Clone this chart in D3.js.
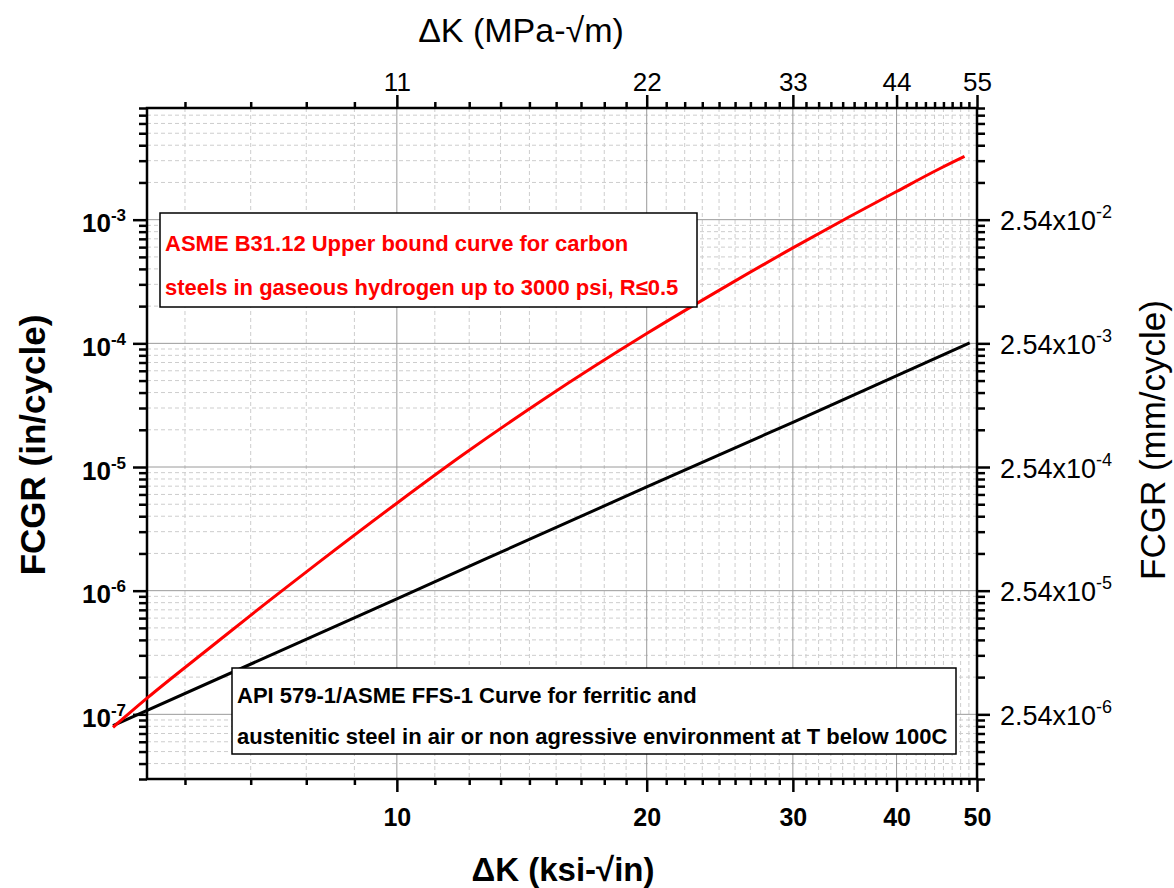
<!DOCTYPE html>
<html>
<head>
<meta charset="utf-8">
<script src="https://cdn.jsdelivr.net/npm/d3@7"></script>
<style>
  body { margin: 0; background: #fff; }
  svg { font-family: Arial, "Liberation Sans", sans-serif; }
  .grid-major { stroke: #9a9a9a; stroke-width: 1; }
  .grid-minor { stroke: #cdcdcd; stroke-width: 1; stroke-dasharray: 4,3; }
  .tick line { stroke: #000; stroke-width: 2.5; }
</style>
</head>
<body>
<svg width="1174" height="888"></svg>
<script>
// values
const redDk   = [4.55, 5, 6, 7, 8, 10, 12, 15, 20, 25, 30, 35, 40, 45, 48.3]
const redRate = [7.85e-8, 1.35e-7, 3.6e-7, 8.2e-7, 1.64e-6, 5.1e-6, 1.25e-5, 3.5e-5, 1.2e-4, 2.93e-4, 5.91e-4, 1.046e-3, 1.69e-3, 2.57e-3, 3.25e-3]
const blackDk   = [4.55, 10, 20, 30, 49]
const blackRate = [8.1e-8, 8.6e-7, 6.9e-6, 2.3e-5, 1.01e-4]

const xTicks = [10, 20, 30, 40, 50]
const xTopTicks = [11, 22, 33, 44, 55]
const yTicks = [1e-7, 1e-6, 1e-5, 1e-4, 1e-3]
const yRightTicks = [2.54e-6, 2.54e-5, 2.54e-4, 2.54e-3, 2.54e-2]

const redNote = ["ASME B31.12 Upper bound curve for carbon",
                 "steels in gaseous hydrogen up to 3000 psi, R\u22640.5"]
const blackNote = ["API 579-1/ASME FFS-1 Curve for ferritic and",
                   "austenitic steel in air or non agressive environment at T below 100C"]

var svg = d3.select('svg')
const L = 147, R = 977, T = 108, B = 779

const x = d3.scaleLog().domain([5, 50]).range([L, R])
const xTop = d3.scaleLog().domain([5.5, 55]).range([L, R])
const y = d3.scaleLog().domain([3e-8, 8e-3]).range([B, T])
const yRight = d3.scaleLog().domain([3e-8 * 25.4, 8e-3 * 25.4]).range([B, T])

// minor ticks: each 10-unit step split in 9
var xMinor = []
for (let a = 0; a < 50; a += 10) {
  for (let k = 1; k < 9; k++) {
    const v = a + k * 10 / 9
    if (v > 5) xMinor.push(v)
  }
}
const isDecade = v => Math.abs(Math.log10(v) - Math.round(Math.log10(v))) < 1e-6
const yMinor = y.ticks().filter(v => !isDecade(v))

// grid
const grid = svg.append('g')
grid.selectAll('.vmin').data(xMinor).enter().append('line')
  .attr('class', 'grid-minor')
  .attr('x1', d => x(d)).attr('x2', d => x(d)).attr('y1', T).attr('y2', B)
grid.selectAll('.hmin').data(yMinor).enter().append('line')
  .attr('class', 'grid-minor')
  .attr('x1', L).attr('x2', R).attr('y1', d => y(d)).attr('y2', d => y(d))
grid.selectAll('.vmaj').data(xTicks.slice(0, -1)).enter().append('line')
  .attr('class', 'grid-major')
  .attr('x1', d => x(d)).attr('x2', d => x(d)).attr('y1', T).attr('y2', B)
grid.selectAll('.hmaj').data(yTicks).enter().append('line')
  .attr('class', 'grid-major')
  .attr('x1', L).attr('x2', R).attr('y1', d => y(d)).attr('y2', d => y(d))

// axes
const addAxis = (axis, tx, ty) => {
  const g = svg.append('g').attr('transform', `translate(${tx},${ty})`).call(axis)
  g.select('.domain').remove()
  return g
}

addAxis(d3.axisBottom(x).tickValues(xMinor).tickSize(6).tickFormat(''), 0, B)
addAxis(d3.axisTop(x).tickValues(xMinor).tickSize(6).tickFormat(''), 0, T)
addAxis(d3.axisLeft(y).tickValues(yMinor).tickSize(8).tickFormat(''), L, 0)
addAxis(d3.axisRight(y).tickValues(yMinor).tickSize(8).tickFormat(''), R, 0)

const bottomAxis = addAxis(d3.axisBottom(x).tickValues(xTicks).tickSize(13).tickFormat(d3.format('d')), 0, B)
bottomAxis.selectAll('text').attr('font-size', 25).attr('font-weight', 'bold')
  .attr('fill', '#000').attr('dy', '1.25em')

const topAxis = addAxis(d3.axisTop(xTop).tickValues(xTopTicks).tickSize(13).tickFormat(d3.format('d')), 0, T)
topAxis.selectAll('text').attr('font-size', 26).attr('fill', '#000').attr('dy', '-0.05em')

const leftAxis = addAxis(d3.axisLeft(y).tickValues(yTicks).tickSize(14).tickFormat(''), L, 0)
leftAxis.selectAll('.tick').append('text')
  .attr('x', -21).attr('y', 12).attr('text-anchor', 'end')
  .attr('font-weight', 'bold').attr('fill', '#000')
  .each(function (d) {
    const t = d3.select(this)
    t.append('tspan').attr('font-size', 26).text('10')
    t.append('tspan').attr('font-size', 17).attr('dy', -11).text(Math.round(Math.log10(d)))
  })

const rightAxis = addAxis(d3.axisRight(yRight).tickValues(yRightTicks).tickSize(13).tickFormat(''), R, 0)
rightAxis.selectAll('.tick').append('text')
  .attr('x', 23).attr('y', 10).attr('text-anchor', 'start').attr('fill', '#000')
  .each(function (d) {
    const t = d3.select(this)
    t.append('tspan').attr('font-size', 27).text('2.54x10')
    t.append('tspan').attr('font-size', 18).attr('dy', -12).text(Math.round(Math.log10(d / 2.54)))
  })

// frame
svg.append('rect')
  .attr('x', L).attr('y', T).attr('width', R - L).attr('height', B - T)
  .attr('fill', 'none').attr('stroke', '#000').attr('stroke-width', 2.5)

// curves (not clipped, like the original)
const line = d3.line().x(d => x(d[0])).y(d => y(d[1])).curve(d3.curveMonotoneX)

svg.append('path')
  .datum(blackDk.map((d, i) => [d, blackRate[i]]))
  .attr('d', line).attr('fill', 'none').attr('stroke', '#000').attr('stroke-width', 3)

svg.append('path')
  .datum(redDk.map((d, i) => [d, redRate[i]]))
  .attr('d', line).attr('fill', 'none').attr('stroke', '#ff0000').attr('stroke-width', 3)

// notes
const note = (lines, color, bx, by, bw, bh, lineY) => {
  const g = svg.append('g')
  g.append('rect').attr('x', bx).attr('y', by).attr('width', bw).attr('height', bh)
    .attr('fill', '#fff').attr('stroke', '#000').attr('stroke-width', 1.5)
  g.selectAll('text').data(lines).enter().append('text')
    .attr('x', bx + 5).attr('y', (d, i) => by + lineY[i])
    .attr('font-size', 22).attr('font-weight', 'bold').attr('fill', color)
    .text(d => d)
}
note(redNote, '#ff0000', 160, 213, 537, 94, [38, 82])
note(blackNote, '#000', 232, 668, 724, 86, [35, 76])

// titles
svg.append('text').attr('x', 563).attr('y', 881).attr('text-anchor', 'middle')
  .attr('font-size', 33).attr('font-weight', 'bold').text('\u0394K (ksi-\u221Ain)')
svg.append('text').attr('x', 521).attr('y', 42).attr('text-anchor', 'middle')
  .attr('font-size', 34).text('\u0394K (MPa-\u221Am)')
svg.append('text').attr('transform', 'translate(45,445) rotate(-90)').attr('text-anchor', 'middle')
  .attr('font-size', 35).attr('font-weight', 'bold').text('FCGR (in/cycle)')
svg.append('text').attr('transform', 'translate(1165,440) rotate(-90)').attr('text-anchor', 'middle')
  .attr('font-size', 35).text('FCGR (mm/cycle)')
</script>
</body>
</html>
